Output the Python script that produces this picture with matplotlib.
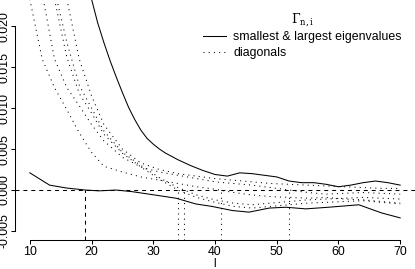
import matplotlib
matplotlib.use("Agg")
import matplotlib.pyplot as plt
import numpy as np

plt.rcParams["font.family"] = ["Liberation Sans", "DejaVu Sans"]
plt.rcParams["font.size"] = 8.9
plt.rcParams["mathtext.fontset"] = "dejavuserif"

# lag values for the diagonal curves
lags = [10, 12, 14, 16, 18, 20, 22, 25, 28, 31, 34, 37, 40, 43, 46, 49,
        52, 55, 58, 61, 64, 67, 70]

# largest eigenvalue (x 1e-3)
up_lags = [10, 14, 17, 19, 20, 21, 22, 23, 24, 25, 26, 27, 28, 29, 30, 31,
           32, 33, 34, 36, 38, 40, 42, 44, 46, 48, 50, 52, 54, 56, 58, 60,
           62, 64, 66, 68, 70]
eig_max = [70, 45, 32, 26.5, 23.3, 20.4, 18.0, 15.8, 13.8, 11.9, 10.1, 8.6,
           7.3, 6.3, 5.6, 5.0, 4.5, 4.1, 3.7, 3.0, 2.4, 1.9, 1.7, 2.1, 2.0,
           1.8, 1.6, 1.1, 0.9, 0.9, 0.7, 0.4, 0.6, 0.9, 1.1, 0.9, 0.6]
# smallest eigenvalue (x 1e-3)
low_lags = [10, 13.2, 15.9, 19, 21.2, 24, 26.6, 29.3, 33.7, 36.9, 39.5, 42.8,
            45.5, 48.8, 51.5, 54.7, 58.4, 63.3, 67, 70]
eig_min = [2.1, 0.6, 0.25, 0.0, -0.1, 0.0, -0.2, -0.5, -1.0, -1.7, -2.0, -2.5,
           -2.7, -2.2, -2.1, -2.3, -2.1, -1.8, -2.8, -3.4]

# diagonal elements (x 1e-3)
diag_1 = [23.3, 16.0, 12.5, 9.8, 7.0, 4.6, 2.9, 2.2, 1.6, 1.2, 0.8, 0.4, 0.1,
          -0.3, -0.6, -0.8, -0.9, -1.0, -0.9, -1.1, -1.2, -1.4, -1.6]
diag_2 = [35, 24, 16.0, 12.5, 10.3, 8.0, 6.0, 4.0, 2.8, 2.2, 1.8, 1.4, 1.0,
          0.8, 0.6, 0.3, 0.0, -0.3, -0.5, -0.4, -0.3, -0.4, -0.5]
diag_3 = [45, 32, 23.3, 16.2, 11.8, 9.4, 6.8, 4.5, 2.8, 1.3, 0.0, -0.9, -1.5,
          -2.0, -2.2, -2.0, -1.8, -1.6, -1.5, -1.4, -1.3, -1.5, -1.7]
diag_4 = [48, 34, 24.5, 18.0, 12.8, 10.0, 7.2, 4.6, 3.0, 1.5, 0.3, -0.6, -1.2,
          -1.6, -1.8, -1.6, -1.4, -1.2, -1.1, -1.0, -0.9, -1.0, -1.1]
diag_5 = [60, 40, 30, 23.3, 16.0, 11.5, 8.0, 5.0, 3.3, 2.5, 2.0, 1.7, 1.4,
          1.2, 1.0, 0.8, 0.7, 0.6, 0.5, 0.4, 0.3, 0.2, 0.2]

# zero crossings
cross_eig = [19]
cross_diag = [34, 35, 41, 52]

dotted = (0, (1, 4))
dashed = (0, (3.8, 3.8))
lw = 0.75

fig = plt.figure(figsize=(4.15, 2.69), dpi=100)
ax = fig.add_axes([15 / 415, 29 / 269, 400 / 415, 240 / 269])
ax.set_xlim(7.6, 72.4)
ax.set_ylim(-0.0061, 0.0232)
ymin = ax.get_ylim()[0]

scale = 1e-3
ax.plot(up_lags, np.array(eig_max) * scale, color="black", lw=lw)
ax.plot(low_lags, np.array(eig_min) * scale, color="black", lw=lw)
for d in [diag_1, diag_2, diag_3, diag_4, diag_5]:
    ax.plot(lags, np.array(d) * scale, color="black", lw=lw, linestyle=dotted)

ax.axhline(0, color="black", lw=lw, linestyle=dashed)
ax.vlines(cross_eig, ymin, 0, color="black", lw=lw, linestyles=[dashed])
ax.vlines(cross_diag, ymin, 0, color="black", lw=lw, linestyles=[dotted])

for s in ["top", "right"]:
    ax.spines[s].set_visible(False)
ax.spines["left"].set_bounds(-0.005, 0.020)
ax.spines["bottom"].set_bounds(10, 70)
ax.spines["left"].set_linewidth(lw)
ax.spines["bottom"].set_linewidth(lw)

ax.set_xticks([10, 20, 30, 40, 50, 60, 70])
ax.set_yticks([-0.005, 0.0, 0.005, 0.010, 0.015, 0.020])
ax.set_yticklabels(["-0.005", "0.000", "0.005", "0.010", "0.015", "0.020"],
                   rotation=90, va="center")
ax.tick_params(length=2.9, width=lw)
ax.tick_params(axis="y", pad=0)
ax.tick_params(axis="x", pad=1.2)
ax.set_xlabel("l", fontsize=8.4)
ax.xaxis.set_label_coords(0.5, -0.074)

ax.plot([], [], color="black", lw=lw, label="smallest & largest eigenvalues")
ax.plot([], [], color="black", lw=lw, linestyle=dotted, label="diagonals")
handles, labels = ax.get_legend_handles_labels()
leg = ax.legend(handles[-2:], labels[-2:], title=r"$\Gamma_{\mathrm{n,i}}$",
                frameon=False, loc="upper left",
                bbox_to_anchor=(192 / 415, 1.0), bbox_transform=fig.transFigure,
                handlelength=1.85, handletextpad=0.6, labelspacing=0.3)

fig.savefig("out.png", dpi=100)
